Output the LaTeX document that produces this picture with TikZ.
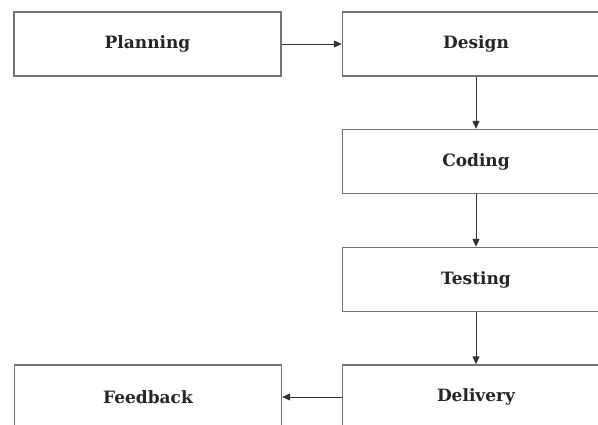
\documentclass[tikz,border=0pt]{standalone}
\usepackage{fontspec}
\setmainfont{DejaVu Serif}
\usetikzlibrary{arrows.meta}
\begin{document}
\begin{tikzpicture}[x=1pt,y=-1pt,
  stagebox/.style={draw=black!55, line width=1.4pt, minimum width=267pt, minimum height=64pt, inner sep=0pt, font=\bfseries\fontsize{17}{19}\selectfont, text=black!85},
  flow/.style={draw=black!80, line width=0.9pt, -{Triangle[length=8pt,width=7pt]}}]
\useasboundingbox (0,0) rectangle (598,425);
\clip (0,0) rectangle (598,425);
\fill[white] (0,0) rectangle (598,425);
\node[stagebox] (plan) at (147.5,44) {Planning};
\node[stagebox] (design) at (476,44) {Design};
\node[stagebox] (coding) at (476,161.5) {Coding};
\node[stagebox] (testing) at (476,279.5) {Testing};
\node[stagebox] (delivery) at (476,397) {Delivery};
\node[stagebox] (feedback) at (148,397) {Feedback};
\draw[flow] (plan.east) -- (design.west);
\draw[flow] (design.south) -- (coding.north);
\draw[flow] (coding.south) -- (testing.north);
\draw[flow] (testing.south) -- (delivery.north);
\draw[flow] (delivery.west) -- (feedback.east);
\end{tikzpicture}
\end{document}
